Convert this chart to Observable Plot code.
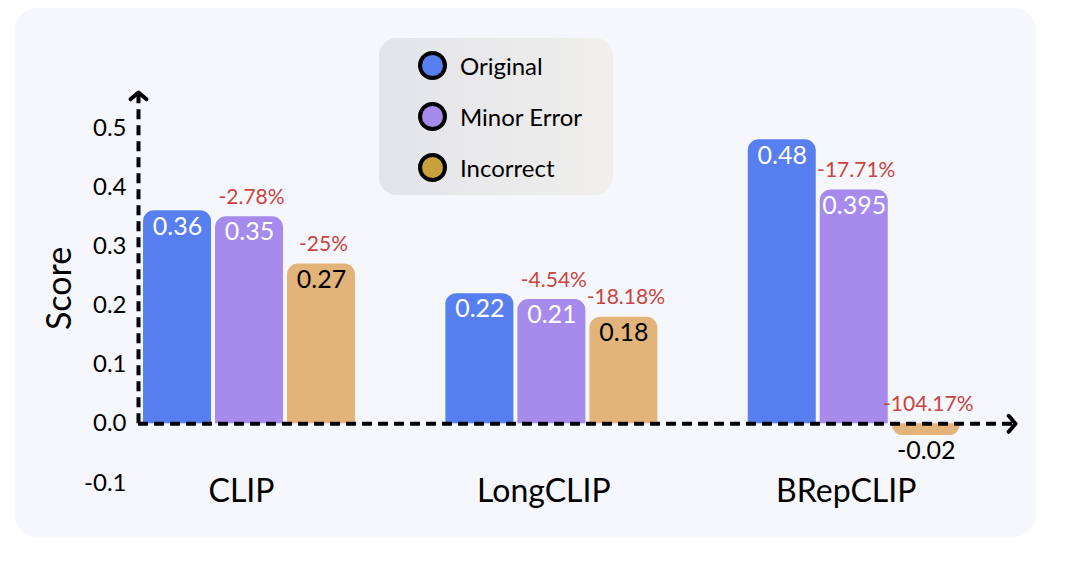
<!DOCTYPE html>
<html>
<head>
<meta charset="utf-8">
<script src="https://cdn.jsdelivr.net/npm/d3@7"></script>
<script src="https://cdn.jsdelivr.net/npm/@observablehq/plot@0.6"></script>
<style>
  html, body { margin: 0; padding: 0; background: #ffffff; }
  #wrap { position: relative; width: 1068px; height: 576px; overflow: hidden; font-family: Lato, "Open Sans", sans-serif; }
  #panel { position: absolute; left: 15px; top: 8px; width: 1021px; height: 529px; border-radius: 22px; background: #f6f7fc; }
  #chart { position: absolute; left: 0; top: 0; }
  #legend { position: absolute; left: 379px; top: 38px; width: 234px; height: 157px; border-radius: 18px;
            background: linear-gradient(to right, #e3e4e9, #f0efed); }
  .item { position: absolute; left: 39px; height: 30px; display: flex; align-items: center; }
  .sw { width: 21px; height: 21px; border-radius: 50%; border: 4px solid #000; box-sizing: content-box; }
  .lbl { margin-left: 13px; font-size: 24px; color: #000; }
</style>
</head>
<body>
<div id="wrap">
  <div id="panel"></div>
  <div id="chart"></div>
  <div id="legend"></div>
</div>
<script>
// ---- data ----
const categories = ["CLIP", "LongCLIP", "BRepCLIP"];
const series = ["Original", "Minor Error", "Incorrect"];
const original = [0.36, 0.22, 0.48];
const minorError = [0.35, 0.21, 0.395];
const incorrect = [0.27, 0.18, -0.02];
const minorChange = [-2.78, -4.54, -17.71];      // % vs Original
const incorrectChange = [-25, -18.18, -104.17];  // % vs Original
const yTicks = [-0.1, 0, 0.1, 0.2, 0.3, 0.4, 0.5];
const barColors = ["#577ff0", "#a68bec", "#e2b47a"];
const legendColors = ["#577ff0", "#a68bec", "#c9a13c"];

// ---- table built from the arrays ----
const groupStep = 4.2;
const valuesBySeries = [original, minorError, incorrect];
const changeBySeries = [null, minorChange, incorrectChange];
const rows = [];
categories.forEach((c, g) => {
  series.forEach((s, k) => {
    rows.push({
      model: c, series: s, k,
      value: valuesBySeries[k][g],
      change: changeBySeries[k] ? changeBySeries[k][g] : null,
      x1: g * groupStep + k, x2: g * groupStep + k + 1, xc: g * groupStep + k + 0.5
    });
  });
});
const xDomain = [-0.042, 12.14];
const yDomain = [-0.15, 0.56];

const chevron = {
  draw(context, size) {
    const r = Math.sqrt(size / Math.PI);
    context.moveTo(-r, r * 0.85);
    context.lineTo(0, 0);
    context.lineTo(r, r * 0.85);
  }
};

const dash = "10,6";
const plot = Plot.plot({
  width: 1068, height: 576,
  marginLeft: 138, marginRight: 53, marginTop: 92, marginBottom: 64,
  x: {domain: xDomain, axis: null},
  y: {domain: yDomain, axis: null},
  color: {domain: series, range: barColors},
  style: {background: "transparent", fontFamily: "Lato, 'Open Sans', sans-serif", color: "#000", overflow: "visible"},
  marks: [
    Plot.rectY(rows, {x1: "x1", x2: "x2", y1: () => 0, y2: "value", fill: "series",
      insetLeft: 2, insetRight: 2, ry2: 11}),
    Plot.ruleY([0], {stroke: "#000", strokeWidth: 4, strokeDasharray: dash}),
    Plot.ruleX([xDomain[0]], {x: d => d, y1: () => 0, y2: () => yDomain[1], stroke: "#000", strokeWidth: 4, strokeDasharray: dash}),
    Plot.dot([0], {x: () => xDomain[0], y: () => yDomain[1], symbol: chevron, r: 8, fill: "none", stroke: "#000",
      strokeWidth: 4, strokeLinejoin: "round", strokeLinecap: "round"}),
    Plot.dot([0], {x: () => xDomain[1], y: () => 0, symbol: chevron, r: 8, rotate: 90, fill: "none", stroke: "#000",
      strokeWidth: 4, strokeLinejoin: "round", strokeLinecap: "round"}),
    Plot.axisY({ticks: yTicks, tickFormat: d => d.toFixed(1), tickSize: 0, tickPadding: 12, fontSize: 24, label: null}),
    Plot.text(["Score"], {frameAnchor: "left", textAnchor: "middle", dx: -78, dy: -14, rotate: -90, fontSize: 34}),
    Plot.text(categories, {x: (d, i) => i * groupStep + 1.5, y: () => -0.115, dx: -8, fontSize: 32}),
    Plot.text(rows.filter(d => d.k < 2), {x: "xc", y: "value", text: d => String(d.value), lineAnchor: "top",
      dy: 6, fill: "#ffffff", fontSize: 25}),
    Plot.text(rows.filter(d => d.k === 2), {x: "xc", y: "value", text: d => String(d.value), lineAnchor: "top",
      dy: 6, fill: "#000000", fontSize: 25}),
    Plot.text(rows.filter(d => d.change !== null), {x: "xc", y: d => Math.max(0, d.value), text: d => `${d.change}%`,
      lineAnchor: "bottom", dy: -13, dx: 2, fill: "#c8453f", fontSize: 21})
  ]
});
document.getElementById("chart").appendChild(plot);

// ---- legend ----
const legend = document.getElementById("legend");
series.forEach((s, i) => {
  const item = document.createElement("div");
  item.className = "item";
  item.style.top = (12 + i * 51) + "px";
  const sw = document.createElement("div");
  sw.className = "sw";
  sw.style.background = legendColors[i];
  const lbl = document.createElement("span");
  lbl.className = "lbl";
  lbl.textContent = s;
  item.appendChild(sw);
  item.appendChild(lbl);
  legend.appendChild(item);
});
</script>
</body>
</html>
